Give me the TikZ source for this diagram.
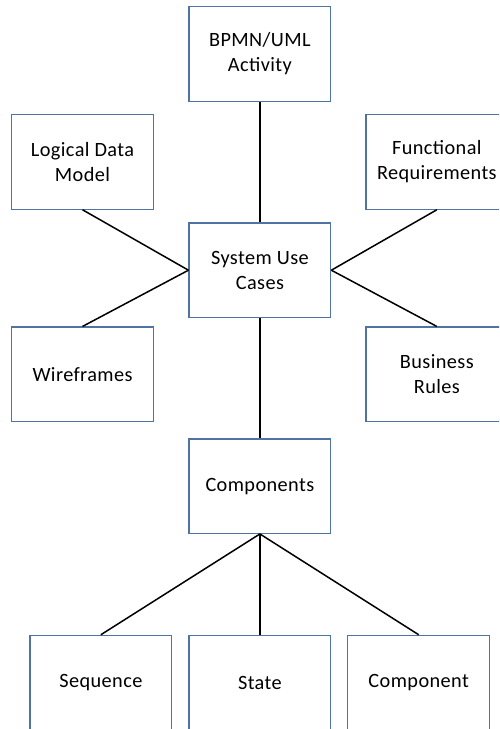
\documentclass[tikz,border=0pt]{standalone}
\usepackage{fontspec}
\setmainfont{Carlito}[LetterSpace=2]
\definecolor{boxblue}{HTML}{4F74A3}
\begin{document}
\begin{tikzpicture}[x=1pt,y=-1pt,
  box/.style={draw=boxblue,line width=1.2pt,fill=white,minimum width=141.7pt,minimum height=94.3pt,inner sep=0pt,align=center,font=\fontsize{20.3}{25}\selectfont},
  link/.style={draw=black,line width=1.5pt}]
\useasboundingbox (0,0) rectangle (499,729);
\clip (0,0) rectangle (499,729);
\node[box] (bpmn) at (259.9,54) {BPMN/UML\\Activity};
\node[box] (ldm) at (82.5,162) {Logical Data\\Model};
\node[box] (fr) at (436.85,162) {Functional\\Requirements};
\node[box] (suc) at (259.9,270.2) {System Use\\Cases};
\node[box] (wf) at (82.5,374.2) {Wireframes};
\node[box] (br) at (436.85,374.2) {Business\\Rules};
\node[box] (comps) at (259.9,486.2) {Components};
\node[box] (seq) at (100.85,682.5) {Sequence};
\node[box] (state) at (259.9,682.5) {State};
\node[box] (comp) at (418.7,682.5) {Component};
\draw[link] (bpmn.south) -- (suc.north);
\draw[link] (ldm.south) -- (suc.west);
\draw[link] (fr.south) -- (suc.east);
\draw[link] (wf.north) -- (suc.west);
\draw[link] (br.north) -- (suc.east);
\draw[link] (suc.south) -- (comps.north);
\draw[link] (comps.south) -- (seq.north);
\draw[link] (comps.south) -- (state.north);
\draw[link] (comps.south) -- (comp.north);
\end{tikzpicture}
\end{document}
